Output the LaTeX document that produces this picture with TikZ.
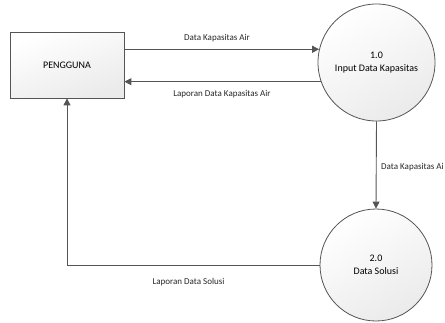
\documentclass[tikz,border=0pt]{standalone}
\usepackage{fontspec}
\setmainfont{Carlito}
\usetikzlibrary{arrows.meta,shadows}
\definecolor{linegray}{HTML}{555555}
\begin{document}
\begin{tikzpicture}[x=1pt,y=1pt,
  entity/.style={draw=linegray, line width=0.8pt, minimum width=114pt, minimum height=66pt,
    inner sep=0pt, font=\fontsize{10}{12}\selectfont,
    top color=white, bottom color=black!8, shading angle=20,
    drop shadow={shadow xshift=1.2pt, shadow yshift=-1.2pt, fill=black!35, opacity=0.6}},
  process/.style={circle, draw=linegray, line width=0.8pt, inner sep=0pt,
    align=center, font=\fontsize{10}{13}\selectfont,
    top color=white, bottom color=black!8, shading angle=30},
  flow/.style={draw=linegray, line width=0.9pt, -{Triangle[length=7pt,width=7pt]}},
  flowlabel/.style={font=\fontsize{9}{11}\selectfont, text=black!85, inner sep=0pt}]
\useasboundingbox (0,0) rectangle (445,-322);

\node[entity] (user) at (67,-65) {PENGGUNA};
\node[process, minimum size=117pt] (p1) at (376.5,-62.5) {1.0\\Input Data Kapasitas};
\node[process, minimum size=112pt] (p2) at (376,-265) {2.0\\Data Solusi};

% flows between the user and process 1.0
\draw[flow] (user.east |- p1.167) -- (p1.167);
\draw[flow] (p1.199.5) -- (user.east |- p1.199.5);

% flow from process 1.0 down to process 2.0
\draw[flow] (p1.south) -- (p2.north);

% report back to the user
\draw[flow] (p2.west) -| (user.south);

\node[flowlabel] (l1) at (217,-37.7) {Data Kapasitas Air};
\node[flowlabel] (l2) at (222,-94) {Laporan Data Kapasitas Air};
\node[flowlabel, anchor=west] (l3) at (381,-167) {Data Kapasitas Ai};
\node[flowlabel] (l4) at (188.5,-282) {Laporan Data Solusi};
\end{tikzpicture}
\end{document}
